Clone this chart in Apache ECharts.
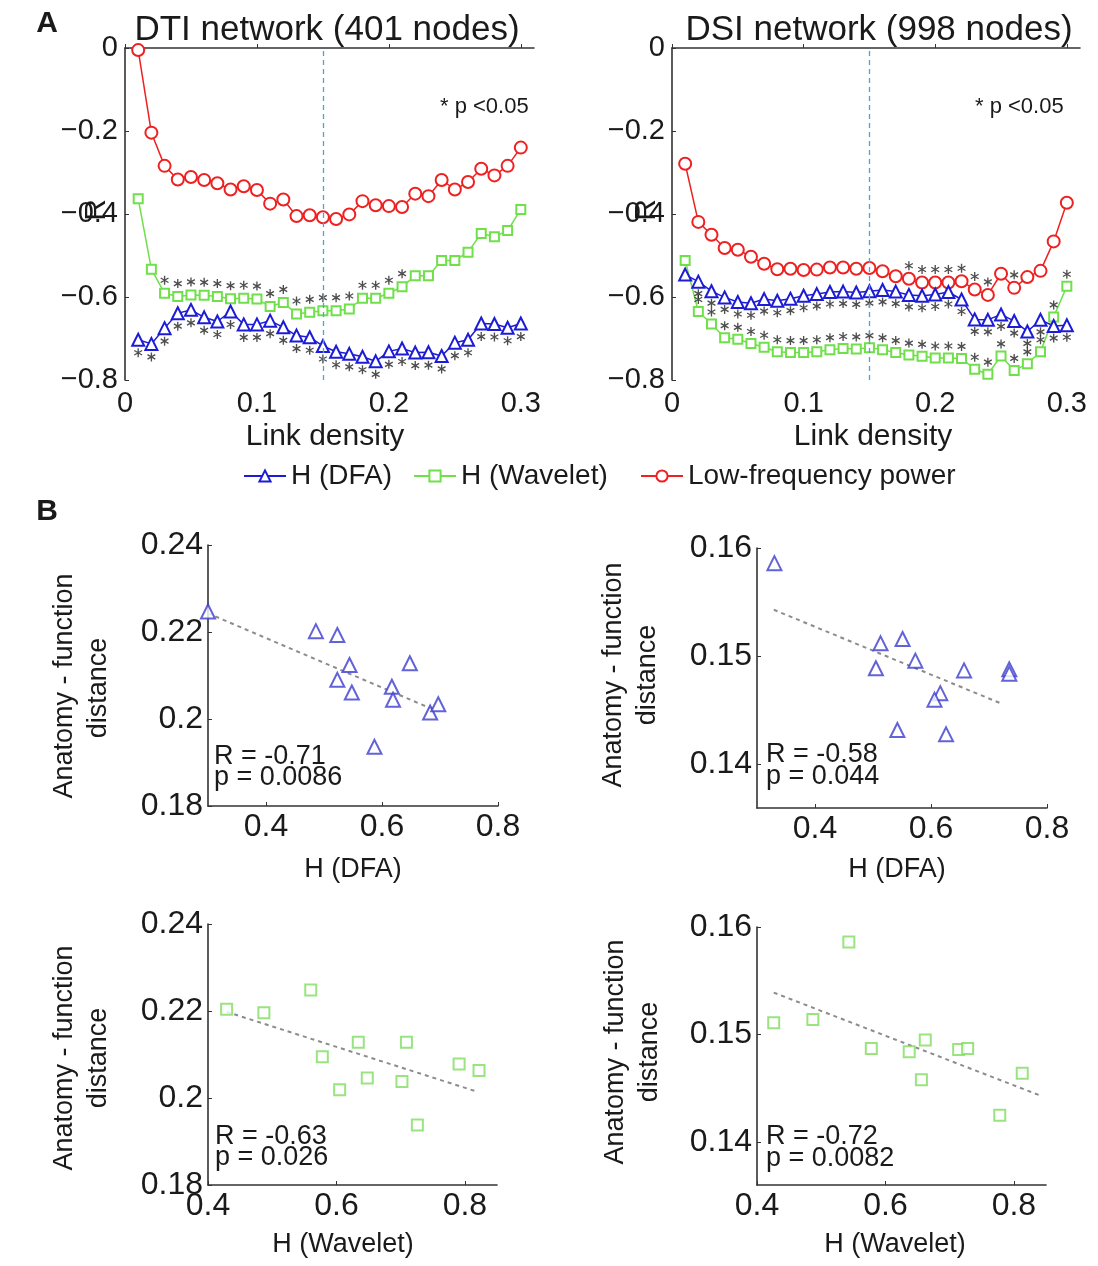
<!DOCTYPE html>
<html>
<head>
<meta charset="utf-8">
<script src="https://cdn.jsdelivr.net/npm/echarts@6/dist/echarts.min.js"></script>
<style>
html,body{margin:0;padding:0;background:#fff;}
#chart{width:1098px;height:1266px;}
</style>
</head>
<body>
<div id="chart"></div>
<script>
// ---------------- DATA ----------------
const density = [0.01,0.02,0.03,0.04,0.05,0.06,0.07,0.08,0.09,0.10,0.11,0.12,0.13,0.14,0.15,0.16,0.17,0.18,0.19,0.20,0.21,0.22,0.23,0.24,0.25,0.26,0.27,0.28,0.29,0.30];

const dtiLowFreq = [-0.005,-0.204,-0.284,-0.317,-0.311,-0.318,-0.326,-0.341,-0.333,-0.342,-0.375,-0.365,-0.405,-0.403,-0.408,-0.412,-0.401,-0.369,-0.379,-0.381,-0.383,-0.351,-0.357,-0.318,-0.341,-0.323,-0.291,-0.307,-0.284,-0.240];
const dtiWavelet = [-0.363,-0.533,-0.591,-0.599,-0.595,-0.596,-0.599,-0.604,-0.603,-0.605,-0.623,-0.613,-0.641,-0.637,-0.633,-0.633,-0.629,-0.603,-0.603,-0.591,-0.575,-0.549,-0.549,-0.512,-0.512,-0.492,-0.447,-0.455,-0.440,-0.389];
const dtiDFA = [-0.703,-0.713,-0.675,-0.639,-0.631,-0.649,-0.659,-0.635,-0.666,-0.666,-0.657,-0.673,-0.693,-0.697,-0.718,-0.732,-0.737,-0.744,-0.755,-0.731,-0.724,-0.734,-0.733,-0.742,-0.710,-0.703,-0.664,-0.665,-0.674,-0.664];

const dsiLowFreq = [-0.279,-0.419,-0.450,-0.482,-0.486,-0.503,-0.520,-0.533,-0.532,-0.535,-0.534,-0.529,-0.529,-0.532,-0.530,-0.538,-0.550,-0.556,-0.565,-0.565,-0.565,-0.562,-0.582,-0.595,-0.544,-0.578,-0.552,-0.537,-0.466,-0.373];
const dsiWavelet = [-0.512,-0.635,-0.665,-0.698,-0.702,-0.712,-0.721,-0.732,-0.734,-0.734,-0.732,-0.727,-0.724,-0.725,-0.722,-0.727,-0.734,-0.740,-0.743,-0.747,-0.747,-0.748,-0.774,-0.786,-0.742,-0.777,-0.761,-0.732,-0.648,-0.574];
const dsiDFA = [-0.546,-0.563,-0.586,-0.601,-0.612,-0.615,-0.605,-0.609,-0.604,-0.597,-0.593,-0.588,-0.587,-0.589,-0.586,-0.583,-0.587,-0.595,-0.597,-0.594,-0.588,-0.606,-0.654,-0.655,-0.642,-0.658,-0.683,-0.655,-0.670,-0.668];

// significance (p<0.05) marks: 0-based indices into density
const dtiWaveletSig = [2,3,4,5,6,7,8,9,10,11,12,13,14,15,16,17,18,19,20];
const dtiDFASig = [0,1,2,3,4,5,6,7,8,9,10,11,12,13,14,15,16,17,18,19,20,21,22,23,24,25,26,27,28,29];
const dsiLowFreqSig = [17,18,19,20,21,22,23,25];
const dsiDFASig = [1,2,3,4,5,6,7,8,9,10,11,12,13,14,15,16,17,18,19,20,21,22,23,24,25,26,27,28,29];
const dsiWaveletSig = [1,2,3,4,5,6,7,8,9,10,11,12,13,14,15,16,17,18,19,20,21,22,23,24,25,26,27,28,29];

const cutoffDensity = [0.15];

const topXTicks = [0, 0.1, 0.2, 0.3];
const topYTicks = [-0.8, -0.6, -0.4, -0.2, 0];

// Panel B scatter data
const b1H = [0.300,0.486,0.523,0.544,0.523,0.548,0.648,0.617,0.619,0.683,0.697,0.587];
const b1D = [0.2247,0.2202,0.2193,0.2124,0.2090,0.2061,0.2128,0.2074,0.2044,0.2015,0.2034,0.1936];
const b1Trend = [[0.30,0.2243],[0.69,0.2021]];

const b2H = [0.330,0.513,0.551,0.505,0.573,0.657,0.735,0.735,0.616,0.606,0.542,0.626];
const b2D = [0.1586,0.1512,0.1516,0.1489,0.1496,0.1487,0.1488,0.1484,0.1466,0.1460,0.1432,0.1428];
const b2Trend = [[0.329,0.1543],[0.723,0.1456]];

const b3H = [0.429,0.487,0.560,0.578,0.634,0.709,0.605,0.648,0.702,0.791,0.822,0.726];
const b3D = [0.2204,0.2196,0.2248,0.2095,0.2128,0.2128,0.2019,0.2046,0.2038,0.2078,0.2063,0.1938];
const b3Trend = [[0.429,0.2198],[0.818,0.2015]];

const b4H = [0.426,0.487,0.543,0.578,0.637,0.662,0.656,0.714,0.728,0.813,0.778];
const b4D = [0.1511,0.1514,0.1586,0.1487,0.1484,0.1495,0.1458,0.1486,0.1487,0.1464,0.1425];
const b4Trend = [[0.426,0.1539],[0.842,0.1443]];

const bXTicks = [0.4, 0.6, 0.8];
const bYTicksDTI = [0.18, 0.20, 0.22, 0.24];
const bYTicksDSI = [0.14, 0.15, 0.16];

const legendNames = ['H (DFA)', 'H (Wavelet)', 'Low-frequency power'];
const stats = [['R = -0.71','p = 0.0086'],['R = -0.58','p = 0.044'],['R = -0.63','p = 0.026'],['R = -0.72','p = 0.0082']];

// ---------------- STYLE ----------------
const FONT = '"Liberation Sans", Arial, Helvetica, sans-serif';
const TXT = '#1a1a1a';
const BLUE = '#1c1cd6';
const GREEN = '#6fe04a';
const RED = '#ee2020';
const SBLUE = '#3b3bd0';
const SGREEN = '#80dd60';
const ASTER = 'path://M-1.5,-10L1.5,-10L1.5,10L-1.5,10Z M-9.41,-3.7L-7.91,-6.3L9.41,3.7L7.91,6.3Z M-7.91,6.3L-9.41,3.7L7.91,-6.3L9.41,-3.7Z';

const zip = (xs, ys) => xs.map((x, i) => [x, ys[i]]);
const pick = (xs, ys, idx) => idx.map(i => [xs[i], ys[i]]);
const numFmt = v => String(+(+v).toFixed(3));
const topXFmt = v => (Math.abs(v) < 1e-9 ? '0' : (+v).toFixed(1));
const topYFmt = v => (Math.abs(v) < 1e-9 ? '0' : '\u2212' + Math.abs(v).toFixed(1));

const axisLine = { show: true, lineStyle: { color: '#333', width: 1.6 } };

function topX(idx) {
  return { gridIndex: idx, type: 'value', min: 0, max: 0.31,
    axisLine: axisLine, splitLine: { show: false },
    axisTick: { show: true, inside: true, length: 4, customValues: topXTicks, lineStyle: { color: '#333' } },
    axisLabel: { customValues: topXTicks, formatter: topXFmt, fontSize: 29, color: TXT, fontFamily: FONT, margin: 9 } };
}
function topY(idx) {
  return { gridIndex: idx, type: 'value', min: -0.8, max: 0,
    axisLine: axisLine, splitLine: { show: false },
    axisTick: { show: true, inside: true, length: 4, customValues: topYTicks, lineStyle: { color: '#333' } },
    axisLabel: { customValues: topYTicks, formatter: topYFmt, fontSize: 29, color: TXT, fontFamily: FONT, margin: 7 } };
}
function bX(idx, min, max) {
  return { gridIndex: idx, type: 'value', min: min, max: max,
    axisLine: axisLine, splitLine: { show: false },
    axisTick: { show: true, inside: true, length: 4, customValues: bXTicks, lineStyle: { color: '#333' } },
    axisLabel: { customValues: bXTicks, formatter: numFmt, fontSize: 32, color: TXT, fontFamily: FONT, margin: 5 } };
}
function bY(idx, min, max, ticks) {
  return { gridIndex: idx, type: 'value', min: min, max: max,
    axisLine: axisLine, splitLine: { show: false },
    axisTick: { show: true, inside: true, length: 4, customValues: ticks, lineStyle: { color: '#333' } },
    axisLabel: { customValues: ticks, formatter: numFmt, fontSize: 32, color: TXT, fontFamily: FONT, margin: 5 } };
}

function lineSeries(name, gi, ys, color, symbol, size) {
  return { name: name, type: 'line', xAxisIndex: gi, yAxisIndex: gi, data: zip(density, ys),
    symbol: symbol, symbolSize: size, showAllSymbol: true,
    lineStyle: { color: color, width: 1.5 },
    itemStyle: { color: color, borderColor: color, borderWidth: 1.5 },
    emphasis: { disabled: true }, z: 3 };
}
function starSeries(gi, ys, idx, dy) {
  return { name: 'sig', type: 'scatter', xAxisIndex: gi, yAxisIndex: gi, data: pick(density, ys, idx),
    symbol: ASTER, symbolSize: 9, symbolKeepAspect: true, symbolOffset: [0, dy],
    itemStyle: { color: '#222' }, silent: true, z: 4 };
}
function vline(gi) {
  return { name: 'cut', type: 'line', xAxisIndex: gi, yAxisIndex: gi, data: [], silent: true,
    markLine: { silent: true, symbol: 'none', label: { show: false },
      lineStyle: { color: '#4aa3df', type: [5, 4], width: 1.3 },
      data: cutoffDensity.map(v => ({ xAxis: v })) }, z: 2 };
}
function scat(gi, xs, ys, color, symbol, size) {
  return { name: 'b' + gi, type: 'scatter', xAxisIndex: gi, yAxisIndex: gi, data: zip(xs, ys),
    symbol: symbol, symbolSize: size, itemStyle: { color: color, borderColor: color, borderWidth: 1.5 }, z: 4 };
}
function trend(gi, pts) {
  return { name: 'fit' + gi, type: 'line', xAxisIndex: gi, yAxisIndex: gi, data: pts, symbol: 'none',
    lineStyle: { color: '#8c8c8c', width: 2, type: [4, 4] }, silent: true, z: 3 };
}
function legendItem(name, left) {
  return { data: [name], left: left, top: 462, orient: 'horizontal', padding: 0,
    itemWidth: 42, itemHeight: 14, itemGap: 0, selectedMode: false,
    textStyle: { fontSize: 28, color: TXT, fontFamily: FONT, padding: [0, 0, 0, 0] } };
}

function txt(x, y, text, size, opts) {
  opts = opts || {};
  return { type: 'text', x: x, y: y, rotation: opts.rot || 0, silent: true,
    style: { text: text, fill: TXT, font: (opts.bold ? 'bold ' : '') + size + 'px ' + FONT,
      align: opts.align || 'center', verticalAlign: 'middle', lineHeight: opts.lh || size } };
}

const R90 = Math.PI / 2;

const option = {
  backgroundColor: '#fff',
  animation: false,
  textStyle: { fontFamily: FONT },
  grid: [
    { left: 125, top: 48, width: 409, height: 332, outerBoundsMode: 'none' },
    { left: 672, top: 48, width: 408, height: 332, outerBoundsMode: 'none' },
    { left: 208, top: 545, width: 290, height: 261, outerBoundsMode: 'none' },
    { left: 757, top: 548, width: 290, height: 260, outerBoundsMode: 'none' },
    { left: 208, top: 924, width: 289, height: 261, outerBoundsMode: 'none' },
    { left: 757, top: 927, width: 289, height: 258, outerBoundsMode: 'none' }
  ],
  xAxis: [ topX(0), topX(1), bX(2, 0.3, 0.8), bX(3, 0.3, 0.8), bX(4, 0.4, 0.85), bX(5, 0.4, 0.85) ],
  yAxis: [ topY(0), topY(1), bY(2, 0.18, 0.24, bYTicksDTI), bY(3, 0.136, 0.16, bYTicksDSI), bY(4, 0.18, 0.24, bYTicksDTI), bY(5, 0.136, 0.16, bYTicksDSI) ],
  legend: [ legendItem(legendNames[0], 243), legendItem(legendNames[1], 413), legendItem(legendNames[2], 640) ],
  series: [
    vline(0), vline(1),
    lineSeries(legendNames[2], 0, dtiLowFreq, RED, 'emptyCircle', 12),
    lineSeries(legendNames[1], 0, dtiWavelet, GREEN, 'emptyRect', 9),
    lineSeries(legendNames[0], 0, dtiDFA, BLUE, 'emptyTriangle', 12),
    lineSeries(legendNames[2], 1, dsiLowFreq, RED, 'emptyCircle', 12),
    lineSeries(legendNames[1], 1, dsiWavelet, GREEN, 'emptyRect', 9),
    lineSeries(legendNames[0], 1, dsiDFA, BLUE, 'emptyTriangle', 12),
    starSeries(0, dtiWavelet, dtiWaveletSig, -13),
    starSeries(0, dtiDFA, dtiDFASig, 13),
    starSeries(1, dsiLowFreq, dsiLowFreqSig, -13),
    starSeries(1, dsiWavelet, dsiWaveletSig, -12),
    starSeries(1, dsiDFA, dsiDFASig, 12),
    trend(2, b1Trend), scat(2, b1H, b1D, SBLUE, 'emptyTriangle', 14),
    trend(3, b2Trend), scat(3, b2H, b2D, SBLUE, 'emptyTriangle', 14),
    trend(4, b3Trend), scat(4, b3H, b3D, SGREEN, 'emptyRect', 11),
    trend(5, b4Trend), scat(5, b4H, b4D, SGREEN, 'emptyRect', 11)
  ],
  graphic: [
    txt(47, 24, 'A', 30, { bold: true }),
    txt(47, 512, 'B', 30, { bold: true }),
    txt(327, 30, 'DTI network (401 nodes)', 35),
    txt(879, 30, 'DSI network (998 nodes)', 35),
    txt(440, 107, '* p <0.05', 22, { align: 'left' }),
    txt(975, 107, '* p <0.05', 22, { align: 'left' }),
    txt(97, 210, 'R', 30, { rot: R90 }),
    txt(647, 210, 'R', 30, { rot: R90 }),
    txt(325, 437, 'Link density', 30),
    txt(873, 437, 'Link density', 30),
    txt(65, 686, 'Anatomy - function', 27, { rot: R90 }),
    txt(99, 688, 'distance', 27, { rot: R90 }),
    txt(614, 675, 'Anatomy - function', 27, { rot: R90 }),
    txt(648, 675, 'distance', 27, { rot: R90 }),
    txt(65, 1058, 'Anatomy - function', 27, { rot: R90 }),
    txt(99, 1058, 'distance', 27, { rot: R90 }),
    txt(616, 1052, 'Anatomy - function', 27, { rot: R90 }),
    txt(650, 1052, 'distance', 27, { rot: R90 }),
    txt(353, 870, 'H (DFA)', 27),
    txt(897, 870, 'H (DFA)', 27),
    txt(343, 1245, 'H (Wavelet)', 27),
    txt(895, 1245, 'H (Wavelet)', 27),
    txt(214, 757, stats[0][0], 27, { align: 'left' }),
    txt(214, 778, stats[0][1], 27, { align: 'left' }),
    txt(766, 755, stats[1][0], 27, { align: 'left' }),
    txt(766, 777, stats[1][1], 27, { align: 'left' }),
    txt(215, 1137, stats[2][0], 27, { align: 'left' }),
    txt(215, 1158, stats[2][1], 27, { align: 'left' }),
    txt(766, 1137, stats[3][0], 27, { align: 'left' }),
    txt(766, 1159, stats[3][1], 27, { align: 'left' })
  ]
};

const chart = echarts.init(document.getElementById('chart'), null, { renderer: 'canvas' });
chart.setOption(option);
</script>
</body>
</html>
